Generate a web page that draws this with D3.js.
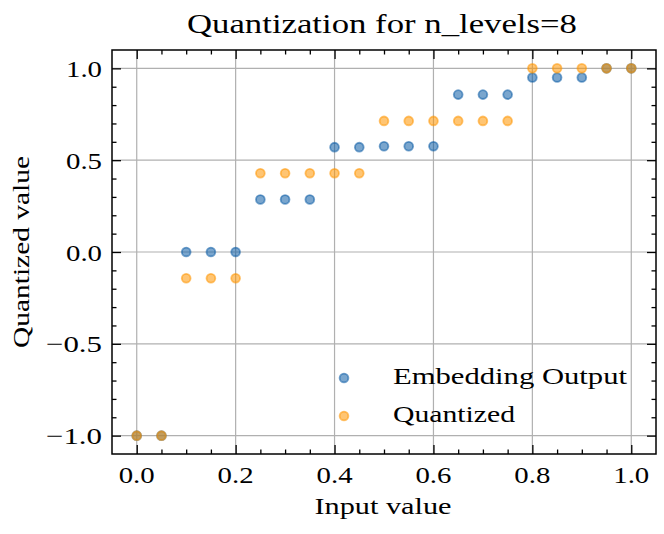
<!DOCTYPE html>
<html>
<head>
<meta charset="utf-8">
<script src="https://cdn.jsdelivr.net/npm/d3@7"></script>
<style>
  html, body { margin: 0; padding: 0; background: #fff; }
  svg { display: block; }
  text { font-family: "Liberation Serif", "DejaVu Serif", serif; fill: #000; }
</style>
</head>
<body>
<svg id="chart" width="664" height="534"></svg>
<script>
// ---- data ----
const inputs = [0.00, 0.05, 0.10, 0.15, 0.20, 0.25, 0.30, 0.35, 0.40, 0.45, 0.50,
                0.55, 0.60, 0.65, 0.70, 0.75, 0.80, 0.85, 0.90, 0.95, 1.00];
const embeddingOutput = [-1.0, -1.0, 0.0, 0.0, 0.0, 0.286, 0.286, 0.286, 0.571, 0.571, 0.576,
                         0.576, 0.576, 0.857, 0.857, 0.857, 0.950, 0.950, 0.950, 1.0, 1.0];
const quantized = [-1.0, -1.0, -0.143, -0.143, -0.143, 0.429, 0.429, 0.429, 0.429, 0.429, 0.714,
                   0.714, 0.714, 0.714, 0.714, 0.714, 1.0, 1.0, 1.0, 1.0, 1.0];
const seriesNames = ["Embedding Output", "Quantized"];
const seriesColors = ["#0C5DA5", "#FF9500"];
const xMajorTicks = [0.0, 0.2, 0.4, 0.6, 0.8, 1.0];
const yMajorTicks = [-1.0, -0.5, 0.0, 0.5, 1.0];
const titleText = "Quantization for n_levels=8";
const xLabelText = "Input value";
const yLabelText = "Quantized value";

// ---- layout ----
const L = 112, R = 656, T = 50, B = 454;
const svg = d3.select("#chart");
const x = d3.scaleLinear().domain([-0.05, 1.05]).range([L, R]);
const y = d3.scaleLinear().domain([-1.1, 1.1]).range([B, T]);
const xMinor = d3.range(0, 21).map(i => i * 0.05).filter(v => !xMajorTicks.some(m => Math.abs(m - v) < 1e-9));
const yMinor = d3.range(-10, 11).map(i => i * 0.1).filter(v => !yMajorTicks.some(m => Math.abs(m - v) < 1e-9));

// grid
const grid = svg.append("g").attr("stroke", "#b0b0b0").attr("stroke-width", 1.2);
grid.selectAll(".gx").data(xMajorTicks).join("line")
  .attr("x1", d => x(d)).attr("x2", d => x(d)).attr("y1", T).attr("y2", B);
grid.selectAll(".gy").data(yMajorTicks).join("line")
  .attr("y1", d => y(d)).attr("y2", d => y(d)).attr("x1", L).attr("x2", R);

// scatter
const MR = 4.4, MSW = 1.8, MA = 0.55;
const series = [embeddingOutput, quantized];
series.forEach((vals, si) => {
  svg.append("g").selectAll("circle").data(inputs.map((v, i) => [v, vals[i]])).join("circle")
    .attr("cx", d => x(d[0])).attr("cy", d => y(d[1])).attr("r", MR)
    .attr("fill", seriesColors[si]).attr("fill-opacity", MA)
    .attr("stroke", seriesColors[si]).attr("stroke-opacity", MA).attr("stroke-width", MSW);
});

// axes (inward ticks, all four sides)
function styleAxis(g) {
  g.select(".domain").remove();
  g.selectAll("line").attr("stroke", "#000").attr("stroke-width", 1.3);
}
const fmt = d3.format(".1f");
svg.append("g").attr("transform", `translate(0,${B})`)
  .call(d3.axisBottom(x).tickValues(xMajorTicks).tickSize(-9).tickFormat("")).call(styleAxis);
svg.append("g").attr("transform", `translate(0,${B})`)
  .call(d3.axisBottom(x).tickValues(xMinor).tickSize(-4.5).tickFormat("")).call(styleAxis);
svg.append("g").attr("transform", `translate(0,${T})`)
  .call(d3.axisTop(x).tickValues(xMajorTicks).tickSize(-9).tickFormat("")).call(styleAxis);
svg.append("g").attr("transform", `translate(0,${T})`)
  .call(d3.axisTop(x).tickValues(xMinor).tickSize(-4.5).tickFormat("")).call(styleAxis);
svg.append("g").attr("transform", `translate(${L},0)`)
  .call(d3.axisLeft(y).tickValues(yMajorTicks).tickSize(-9).tickFormat("")).call(styleAxis);
svg.append("g").attr("transform", `translate(${L},0)`)
  .call(d3.axisLeft(y).tickValues(yMinor).tickSize(-4.5).tickFormat("")).call(styleAxis);
svg.append("g").attr("transform", `translate(${R},0)`)
  .call(d3.axisRight(y).tickValues(yMajorTicks).tickSize(-9).tickFormat("")).call(styleAxis);
svg.append("g").attr("transform", `translate(${R},0)`)
  .call(d3.axisRight(y).tickValues(yMinor).tickSize(-4.5).tickFormat("")).call(styleAxis);

// frame
svg.append("rect").attr("x", L).attr("y", T).attr("width", R - L).attr("height", B - T)
  .attr("fill", "none").attr("stroke", "#000").attr("stroke-width", 1.5);

// tick labels
const FS = 24;
svg.append("g").selectAll("text").data(xMajorTicks).join("text")
  .attr("x", d => x(d)).attr("y", 482.5).attr("text-anchor", "middle")
  .attr("font-size", FS).attr("textLength", 36).attr("lengthAdjust", "spacingAndGlyphs")
  .text(d => fmt(d));
svg.append("g").selectAll("text").data(yMajorTicks).join("text")
  .attr("x", 102).attr("y", d => y(d) + 8.5).attr("text-anchor", "end")
  .attr("font-size", FS).attr("textLength", d => d < 0 ? 56 : 36).attr("lengthAdjust", "spacingAndGlyphs")
  .text(d => fmt(d));

// labels
svg.append("text").attr("x", 383).attr("y", 513.5).attr("text-anchor", "middle")
  .attr("font-size", FS).attr("textLength", 137).attr("lengthAdjust", "spacingAndGlyphs").text(xLabelText);
svg.append("text").attr("transform", `translate(29,${(T + B) / 2}) rotate(-90)`).attr("text-anchor", "middle")
  .attr("font-size", FS).attr("textLength", 192).attr("lengthAdjust", "spacingAndGlyphs").text(yLabelText);
svg.append("text").attr("x", 382).attr("y", 33).attr("text-anchor", "middle")
  .attr("font-size", 27).attr("textLength", 390).attr("lengthAdjust", "spacingAndGlyphs").text(titleText);

// legend
const legend = svg.append("g");
const legendWidths = [234, 122];
seriesNames.forEach((name, i) => {
  const cy = 378 + i * 38;
  legend.append("circle").attr("cx", 344).attr("cy", cy).attr("r", MR)
    .attr("fill", seriesColors[i]).attr("fill-opacity", MA)
    .attr("stroke", seriesColors[i]).attr("stroke-opacity", MA).attr("stroke-width", MSW);
  legend.append("text").attr("x", 393).attr("y", cy + 5.5)
    .attr("font-size", FS).attr("textLength", legendWidths[i]).attr("lengthAdjust", "spacingAndGlyphs")
    .text(name);
});
</script>
</body>
</html>
